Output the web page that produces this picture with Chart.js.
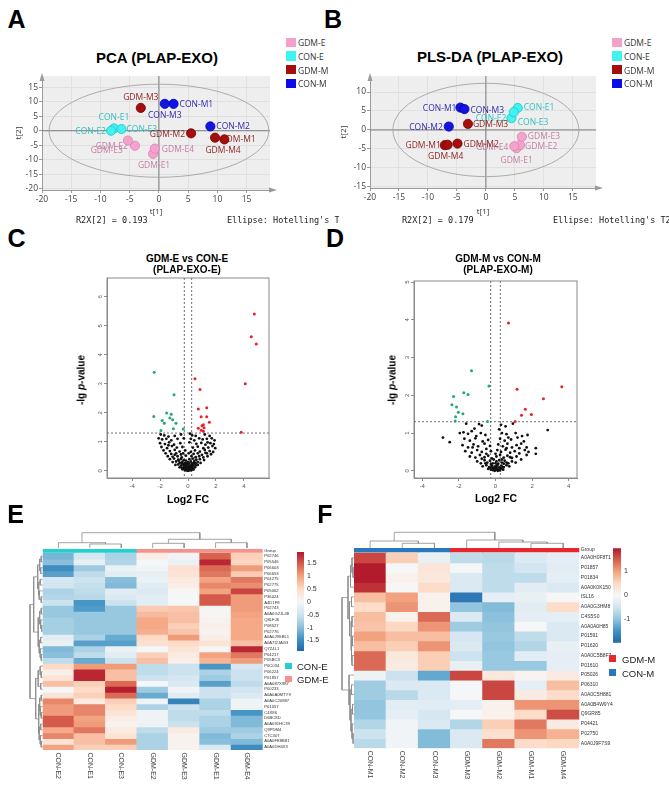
<!DOCTYPE html>
<html>
<head>
<meta charset="UTF-8">
<title>PLAP-EXO</title>
<script src="https://cdn.jsdelivr.net/npm/chart.js"></script>
<style>
*{margin:0; padding:0;}
body{position:relative; width:669px; height:794px; overflow:hidden; background:#fff; font-family:"Liberation Sans", Arial, sans-serif; color:#000;}
canvas{position:absolute;}
.t{position:absolute; white-space:nowrap; line-height:1;}
.sw{position:absolute;}
</style>
</head>
<body>
<canvas id="pca" width="335" height="150" style="left:0;top:70px"></canvas>
<canvas id="pls" width="334" height="150" style="left:335px;top:70px"></canvas>
<canvas id="volE" width="230" height="240" style="left:60px;top:270px"></canvas>
<canvas id="volM" width="230" height="240" style="left:370px;top:270px"></canvas>
<canvas id="heatE" width="300" height="250" style="left:0;top:540px"></canvas>
<canvas id="dcolE" width="300" height="25" style="left:0;top:525px"></canvas>
<canvas id="drowE" width="30" height="215" style="left:20px;top:540px"></canvas>
<canvas id="barE" width="45" height="120" style="left:285px;top:540px"></canvas>
<canvas id="heatM" width="349" height="250" style="left:320px;top:540px"></canvas>
<canvas id="dcolM" width="349" height="25" style="left:320px;top:525px"></canvas>
<canvas id="drowM" width="30" height="215" style="left:330px;top:540px"></canvas>
<canvas id="barM" width="50" height="110" style="left:600px;top:540px"></canvas>
<script>
// ---------- data ----------
// sample groups
const groups = ['GDM-E', 'CON-E', 'GDM-M', 'CON-M'];
const samplesGdmE = ['GDM-E1', 'GDM-E2', 'GDM-E3', 'GDM-E4'];
const samplesConE = ['CON-E1', 'CON-E2', 'CON-E3'];
const samplesGdmM = ['GDM-M1', 'GDM-M2', 'GDM-M3', 'GDM-M4'];
const samplesConM = ['CON-M1', 'CON-M2', 'CON-M3'];

// A: PCA scores (t[1], t[2])
const pcaT1GdmE = [-1.0, -4.1, -5.3, -0.7];
const pcaT2GdmE = [-8.0, -5.2, -3.4, -6.2];
const pcaT1ConE = [-7.7, -8.2, -6.4];
const pcaT2ConE = [0.8, 0.0, 0.6];
const pcaT1GdmM = [11.2, 5.5, -3.1, 9.6];
const pcaT2GdmM = [-3.0, -0.9, 7.9, -2.4];
const pcaT1ConM = [2.5, 8.8, 1.0];
const pcaT2ConM = [9.3, 1.5, 9.3];

// B: PLS-DA scores
const plsT1GdmE = [5.3, 5.9, 6.2, 4.9];
const plsT2GdmE = [-4.8, -4.0, -1.8, -4.3];
const plsT1ConE = [5.5, 4.4, 4.8];
const plsT2ConE = [5.8, 3.1, 4.7];
const plsT1GdmM = [-7.1, -4.9, -3.1, -6.6];
const plsT2GdmM = [-4.0, -3.6, 1.6, -3.9];
const plsT1ConM = [-4.4, -6.4, -3.7];
const plsT2ConM = [5.9, 0.9, 5.5];

const t1Ticks = [-20, -15, -10, -5, 0, 5, 10, 15];
const pcaT2Ticks = [-20, -15, -10, -5, 0, 5, 10, 15];
const plsT2Ticks = [-15, -10, -5, 0, 5, 10];

// C / D: volcano plots (log2 FC, -lg p)
const fcCut = [-0.263, 0.263];
const pCut = 1.301;
const fcTicks = [-4, -2, 0, 2, 4];
const pTicksE = [0, 1, 2, 3, 4, 5, 6];
const pTicksM = [0, 1, 2, 3, 4, 5];

const volEUp = [[4.75,5.41],[4.53,4.62],[4.89,4.37],[4.1,3.0],[3.81,1.33],[0.5,3.17],[0.86,2.8],[0.74,2.13],[1.34,2.17],[0.94,1.86],[1.34,1.86],[1.53,1.67],[1.1,1.59],[1.0,1.55],[1.15,1.48],[0.74,1.47],[1.1,1.36],[0.95,1.4]];
const volEDown = [[-2.42,3.4],[-1.0,2.62],[-2.45,1.87],[-1.53,1.99],[-1.3,1.82],[-1.1,1.76],[-1.85,1.73],[-1.7,1.64],[-0.86,1.64],[-1.05,1.45],[-0.34,1.44],[-1.94,1.39],[-1.2,1.95]];
const volENs = [[-1.95,1.25],[-1.7,1.22],[-1.4,1.18],[-0.95,1.2],[-0.5,1.25],[0.15,1.28],[0.3,1.22],[0.55,1.2],[1.2,1.25],[1.55,1.2],
[-2.1,1.12],[-1.85,1.08],[-1.55,1.1],[-1.2,1.05],[-0.75,1.1],[-0.3,1.12],[0.2,1.1],[0.45,1.05],[0.8,1.12],[1.05,1.08],[1.35,1.1],[1.7,1.12],[1.9,1.05],
[-2.0,0.95],[-1.65,0.92],[-1.35,0.98],[-1.0,0.9],[-0.55,0.95],[0.1,0.98],[0.6,0.93],[0.95,0.96],[1.25,0.9],[1.6,0.95],[1.85,0.92],
[-1.9,0.82],[-1.5,0.78],[-1.15,0.85],[-0.8,0.8],[-0.4,0.82],[0.35,0.8],[0.7,0.83],[1.1,0.78],[1.45,0.8],[1.75,0.85],[1.95,0.78],
[-1.75,0.7],[-1.3,0.68],[-0.95,0.72],[-0.6,0.66],[-0.2,0.7],[0.5,0.7],[0.85,0.66],[1.2,0.72],[1.55,0.68],[1.8,0.65],
[-1.6,0.6],[-1.2,0.58],[-0.85,0.6],[-0.5,0.56],[0.05,0.6],[0.4,0.58],[0.7,0.6],[1.0,0.55],[1.35,0.6],[1.65,0.57],
[-1.45,0.5],[-1.1,0.48],[-0.75,0.5],[-0.45,0.46],[-0.15,0.52],[0.25,0.5],[0.55,0.47],[0.8,0.5],[1.1,0.46],[1.4,0.5],
[-1.3,0.4],[-1.0,0.42],[-0.7,0.38],[-0.5,0.41],[-0.3,0.37],[0.1,0.4],[0.35,0.42],[0.6,0.38],[0.85,0.4],[1.15,0.37],
[-1.1,0.3],[-0.85,0.32],[-0.6,0.28],[-0.4,0.31],[-0.2,0.27],[0.0,0.3],[0.2,0.32],[0.45,0.28],[0.7,0.3],[0.9,0.27],
[-0.9,0.2],[-0.7,0.22],[-0.5,0.18],[-0.35,0.21],[-0.2,0.19],[-0.05,0.22],[0.1,0.18],[0.25,0.2],[0.4,0.22],[0.55,0.18],[0.7,0.2],
[-0.6,0.12],[-0.45,0.1],[-0.3,0.13],[-0.15,0.11],[0.0,0.12],[0.12,0.1],[0.25,0.13],[0.38,0.11],[0.5,0.12],
[-0.4,0.05],[-0.28,0.06],[-0.15,0.04],[-0.05,0.06],[0.05,0.03],[0.15,0.06],[0.28,0.05],[0.4,0.04],[-0.1,0.01],[0.1,0.01],[0.0,0.0],
[-0.35,0.08],[-0.22,0.1],[-0.08,0.09],[0.02,0.08],[0.18,0.09],[0.32,0.08],[-0.25,0.16],[-0.1,0.15],[0.05,0.16],[0.2,0.15],[0.32,0.17],
[-0.45,0.25],[-0.28,0.24],[-0.1,0.26],[0.08,0.25],[0.3,0.25],[0.55,0.25],[-0.65,0.35],[-0.15,0.35],[0.45,0.34],[-0.95,0.55],[-0.35,0.6],
[0.2,0.65],[1.25,0.62],[-1.4,0.88],[1.4,0.98],[-0.2,0.02],[0.22,0.02]];

const volMUp = [[0.71,3.92],[3.62,2.23],[1.18,2.16],[2.62,1.91],[1.63,1.63],[1.42,1.47],[1.96,1.49],[1.07,1.31]];
const volMDown = [[-1.31,2.65],[-0.36,2.25],[-1.73,2.07],[-1.5,2.02],[-2.29,1.97],[-2.38,1.75],[-2.13,1.69],[-2.03,1.55],[-1.78,1.51],[-2.18,1.43],[-2.2,1.32],[-0.44,1.31]];
const volMNs = [[-1.6,1.25],[-0.9,1.24],[-0.75,1.2],[0.3,1.22],[0.55,1.18],[0.95,1.25],[-1.15,1.12],[0.2,1.1],[2.85,1.08],
[-1.95,1.0],[-1.75,1.02],[-1.5,0.98],[-1.3,1.05],[-0.8,1.0],[-0.55,0.95],[0.35,1.0],[0.6,0.97],[1.1,1.0],[1.45,0.92],[1.75,0.95],[-2.87,0.88],[-1.05,0.92],
[-2.5,0.76],[-1.7,0.85],[-1.4,0.8],[-1.1,0.86],[-0.7,0.78],[-0.4,0.82],[0.25,0.85],[0.5,0.8],[0.85,0.83],[1.2,0.88],[1.55,0.78],[0.7,0.88],
[-1.8,0.68],[-1.5,0.62],[-1.2,0.7],[-0.95,0.65],[-0.6,0.72],[-0.3,0.66],[0.15,0.7],[0.4,0.65],[0.65,0.72],[0.9,0.62],[1.15,0.68],[1.4,0.72],[1.7,0.62],[2.2,0.6],
[-1.65,0.52],[-1.3,0.48],[-1.0,0.55],[-0.75,0.5],[-0.5,0.58],[-0.25,0.52],[0.1,0.55],[0.3,0.5],[0.55,0.56],[0.8,0.48],[1.05,0.52],[1.3,0.46],[1.6,0.55],[1.8,0.5],[2.2,0.45],
[-1.4,0.38],[-1.1,0.35],[-0.85,0.42],[-0.6,0.36],[-0.4,0.4],[-0.2,0.33],[0.05,0.38],[0.25,0.42],[0.45,0.35],[0.65,0.4],[0.9,0.34],[1.15,0.38],[1.4,0.3],[1.7,0.42],
[-1.0,0.25],[-0.8,0.2],[-0.6,0.28],[-0.45,0.22],[-0.3,0.27],[-0.15,0.2],[0.05,0.25],[0.2,0.28],[0.35,0.22],[0.5,0.27],[0.7,0.2],[0.9,0.25],[1.1,0.22],
[-0.7,0.12],[-0.5,0.15],[-0.35,0.1],[-0.2,0.14],[-0.05,0.11],[0.1,0.15],[0.2,0.09],[0.32,0.14],[0.45,0.1],[0.6,0.15],[0.75,0.12],
[-0.4,0.05],[-0.25,0.03],[-0.12,0.06],[0.0,0.02],[0.08,0.05],[0.18,0.02],[0.3,0.06],[0.42,0.03],[0.12,0.0],[-0.05,0.0],
[-0.3,0.08],[-0.18,0.09],[-0.05,0.07],[0.05,0.09],[0.25,0.07],[0.38,0.09],[-0.55,0.2],[-0.25,0.18],[0.0,0.2],[0.15,0.19],[0.45,0.19],[0.6,0.22],
[-0.75,0.32],[-0.1,0.3],[0.35,0.3],[0.8,0.36],[1.3,0.6],[-1.25,0.62],[0.0,0.45],[-0.5,0.45],[0.6,0.6],[-0.15,0.02],[0.25,0.01],[0.05,0.13]];

// E: heatmap GDM-E vs CON-E
const colsE = ['CON-E2', 'CON-E1', 'CON-E3', 'GDM-E2', 'GDM-E3', 'GDM-E1', 'GDM-E4'];
const colGroupE = ['CON-E', 'CON-E', 'CON-E', 'GDM-E', 'GDM-E', 'GDM-E', 'GDM-E'];
const rowsE = ['P02746','P05546','P06603','P06653','P04275','P02775','P05062','P36024','A4D1F8','P02743',
  'A0A0G2JL48','Q8LFJ6','P08527','P02776','A0A0J9SBL1','A0A7I2JAG3','Q7Z4L1','P04217','P05BC3','P0C034',
  'P06224','P01857','A0A087X987','P00233','A0A0A0MTY9','A0A0C20887','P01057','C4X86','D6BC8D','A0A091HC39',
  'Q9PDM4','C7C307','A0A0FE8B81','A0A0DH4X3'];
const heatE = [
  [-1.1,-0.4,-0.75,0.2,-0.05,1.45,0.6],
  [-1.0,-0.2,-0.7,0.0,-0.15,1.85,0.55],
  [-1.5,-0.85,-0.15,-0.05,0.4,1.4,1.05],
  [-1.3,-0.6,-0.25,-0.2,0.35,1.3,0.65],
  [-0.4,-0.5,-1.0,-0.15,0.25,1.0,1.3],
  [-0.45,-0.55,-1.05,-0.25,0.2,1.2,1.15],
  [-0.75,-0.6,-0.25,-0.35,0.05,1.0,1.65],
  [-0.7,-0.65,-0.35,-0.25,0.0,1.5,1.05],
  [-0.5,-1.4,-0.5,-0.25,0.0,1.5,1.05],
  [-0.9,-1.35,-0.9,0.65,0.7,0.05,1.05],
  [-0.9,-0.9,-0.9,0.8,0.75,0.05,1.0],
  [-0.8,-0.9,-0.9,0.95,0.75,0.1,0.95],
  [-0.8,-0.9,-0.9,0.95,0.6,0.15,0.95],
  [-0.8,-0.9,-0.9,0.9,0.7,0.1,0.95],
  [-0.25,-0.75,-1.2,0.5,1.05,0.2,0.95],
  [-0.15,-1.3,-1.3,0.4,0.5,0.35,0.75],
  [-1.05,-0.75,-0.15,0.0,0.35,0.05,1.85],
  [-1.0,-0.6,-0.25,0.6,0.25,1.0,1.3],
  [-0.6,-1.2,-0.5,0.75,0.15,0.85,1.05],
  [0.5,1.05,1.05,-0.6,-0.5,-1.4,-0.4],
  [0.15,1.85,0.75,-0.6,-0.5,-0.75,-0.5],
  [0.35,1.85,0.75,-0.5,-0.4,-0.85,-0.5],
  [0.75,0.6,1.4,0.0,-0.35,-1.3,-0.6],
  [0.0,0.5,1.9,-0.85,-0.05,-0.5,-0.45],
  [0.35,0.6,1.4,-1.2,-0.25,-0.5,-0.35],
  [1.2,0.25,0.6,-0.1,-1.6,-0.75,-0.1],
  [1.05,1.2,0.5,-0.75,-0.5,-0.75,-0.1],
  [1.05,1.2,0.35,-0.1,-0.6,-0.6,-1.4],
  [1.5,1.0,0.2,-0.1,-0.6,-0.75,-1.05],
  [1.5,1.05,0.1,-0.1,-0.5,-0.75,-1.05],
  [0.95,1.3,0.25,-0.6,0.25,-0.85,-0.85],
  [1.2,0.75,0.35,-0.75,0.1,-1.05,-0.75],
  [0.35,0.75,1.05,-0.75,0.1,-1.0,-1.05],
  [1.0,0.6,0.6,-0.75,0.1,-0.35,-1.5]
];
const scaleE = [-1.91, 1.95];
const scaleTicksE = [1.5, 1, 0.5, 0, -0.5, -1, -1.5];
// dendrograms: [height, left, right], leaves = index
const colTreeE = [15.3, [5.3, 0, [4, 1, 2]], [8.7, [4.7, 3, 4], [5.3, 5, 6]]];
const rowTreeE = [12.7,
  [9, [5, [3, [1.5, 0, 1], [2, 2, 3]], [4, [2.5, 4, 5], [3.5, 6, [1.5, 7, 8]]]],
      [4.5, [3, [1.5, 9, 10], [2, 11, [1, 12, 13]]], [3.5, [2, 14, 15], [2.5, 16, [1.5, 17, 18]]]]],
  [7, [4.5, [2.5, 19, [1.5, 20, 21]], [2, 22, 23]],
      [4, [3, [1.5, 24, 25], [2.5, 26, [1.5, 27, 28]]], [3.5, [2, 29, 30], [2.5, 31, [1.5, 32, 33]]]]]];

// F: heatmap GDM-M vs CON-M
const colsM = ['CON-M1', 'CON-M2', 'CON-M3', 'GDM-M3', 'GDM-M2', 'GDM-M1', 'GDM-M4'];
const colGroupM = ['CON-M', 'CON-M', 'CON-M', 'GDM-M', 'GDM-M', 'GDM-M', 'GDM-M'];
const rowsM = ['A0A0H0F8T1','P01857','P01834','A0A0K0K150','ISL16','A0A0G3HM8','C4S5S0','A0A0A0H85','P01591','P01620',
  'A0A0C5B8F7','P01610','P05026','P06310','A0A0C5H881','A0A0B4W9Y4','Q9GR85','P04421','P02750','A0A0J9F7S9'];
const heatM = [
  [1.65,0.6,-0.2,-0.65,-0.7,-0.4,-0.25],
  [1.95,-0.05,0.3,-0.05,-0.65,-0.5,-0.3],
  [1.95,0.1,0.25,-0.4,-0.65,-0.65,-0.25],
  [1.8,0.0,0.45,-0.4,-0.65,-0.3,-0.4],
  [0.75,1.0,0.1,-1.8,-0.25,-0.2,0.0],
  [0.45,1.1,0.1,-1.0,-1.1,-0.3,0.45],
  [0.75,0.1,1.4,-0.4,-1.05,-0.25,-0.25],
  [0.7,0.5,1.1,-0.9,-1.0,0.0,-0.4],
  [1.0,0.75,0.75,-0.45,-0.95,-0.65,-0.4],
  [0.75,0.6,1.1,-0.4,-1.0,-0.75,-0.2],
  [1.4,0.25,0.6,-0.55,-0.95,-0.3,-0.25],
  [1.4,0.2,0.6,-0.2,-0.95,-0.95,-0.25],
  [-0.15,-0.55,-1.3,1.65,0.25,0.05,0.2],
  [-0.9,-0.4,-0.4,-0.05,1.65,-0.25,0.75],
  [-0.9,-0.7,-0.4,-0.05,1.65,0.2,0.45],
  [-1.0,-0.3,-0.3,-0.25,0.1,1.1,1.1],
  [-1.0,-0.25,-0.45,-0.05,0.1,0.45,1.6],
  [-0.75,-0.1,-0.4,-0.75,0.6,1.3,0.2],
  [-0.55,-0.1,-1.1,-0.4,0.4,1.1,0.85],
  [-0.7,-0.1,-1.1,-0.4,1.3,0.45,0.5]
];
const scaleM = [-2.0, 1.97];
const scaleTicksM = [1, 0, -1];
const colTreeM = [15.7, [7, 0, [4.7, 1, 2]], [8, 3, [6, 4, [4.7, 5, 6]]]];
const rowTreeM = [12,
  [6, [3.5, [2, 0, [1, 1, 2]], 3], [4.5, [2.5, 4, 5], [3, [2, 6, 7], [2.5, [1.5, 8, 9], [2, 10, 11]]]]],
  [5, 12, [4, [2.5, 13, 14], [3, [1.5, 15, 16], [2, 17, [1, 18, 19]]]]]];

// ---------- styles ----------
const groupFill = ['#f5a3cd', '#44f0f0', '#a60d0d', '#1414e4'];
const groupLine = ['#d883b3', '#22c8c8', '#760000', '#0000a6'];
const groupText = ['#c47ea5', '#33c0c0', '#8e2424', '#2c2cae'];
const groupSwatch = ['#f5a0cb', '#3ff3f3', '#a50c0c', '#0c0ce8'];
const annotColor = {'CON-E': '#22d0d2', 'GDM-E': '#f4938c', 'GDM-M': '#e8262d', 'CON-M': '#2878c0'};
const heatColors = ['#2166ac','#4393c3','#92c5de','#d1e5f0','#f7f7f7','#fddbc7','#f4a582','#d6604d','#b2182b'];

// label offsets (px) for the score plots: [dx, dy, align]
const labA = {'GDM-E1':[1,12,'center'],'GDM-E2':[-7,1,'right'],'GDM-E3':[-5,10,'right'],'GDM-E4':[7,1,'left'],
  'CON-E1':[0,-11,'center'],'CON-E2':[-5,1,'right'],'CON-E3':[5,1,'left'],
  'GDM-M1':[-4,0,'left'],'GDM-M2':[-6,1,'right'],'GDM-M3':[0,-10,'center'],'GDM-M4':[8,13,'center'],
  'CON-M1':[6,1,'left'],'CON-M2':[6,0,'left'],'CON-M3':[0,12,'center']};
const labB = {'CON-M1':[-4,1,'right'],'CON-M3':[6,1,'left'],'CON-M2':[-6,1,'right'],'GDM-M3':[5,1,'left'],
  'GDM-M1':[-4,0,'right'],'GDM-M4':[-2,12,'center'],'GDM-M2':[6,1,'left'],
  'CON-E1':[6,0,'left'],'CON-E2':[-5,0,'right'],'CON-E3':[4,10,'left'],
  'GDM-E3':[6,0,'left'],'GDM-E2':[5,1,'left'],'GDM-E4':[-6,1,'right'],'GDM-E1':[0,12,'center']};

Chart.defaults.font.family = '"Liberation Sans", Arial, sans-serif';
Chart.defaults.animation = false;
Chart.defaults.responsive = false;
Chart.defaults.plugins.legend.display = false;
Chart.defaults.plugins.tooltip.enabled = false;

const pts = arr => arr.map(p => ({x: p[0], y: p[1]}));

// ---------- A, B: score plots ----------
function scoreChart(id, pad, yW, xH, xr, yr, yt, sets, labPos, ell) {
  const plug = {
    id: 'score',
    beforeDraw(c) {
      const {ctx, chartArea: a} = c;
      ctx.save();
      ctx.fillStyle = '#eeeeee';
      ctx.fillRect(a.left, a.top, a.width, a.height);
      ctx.restore();
    },
    beforeDatasetsDraw(c) {
      const {ctx, chartArea: a, scales: {x, y}} = c;
      const x0 = x.getPixelForValue(0), y0 = y.getPixelForValue(0);
      ctx.save();
      ctx.strokeStyle = '#7a7a7a'; ctx.lineWidth = 1;
      ctx.beginPath();
      ctx.moveTo(x0, a.top); ctx.lineTo(x0, a.bottom);
      ctx.moveTo(a.left, y0); ctx.lineTo(a.right, y0);
      ctx.stroke();
      ctx.strokeStyle = '#a4a4a4'; ctx.lineWidth = 0.9;
      ctx.beginPath();
      ctx.ellipse(x0, y0, x.getPixelForValue(ell[0]) - x0, y0 - y.getPixelForValue(ell[1]), 0, 0, Math.PI * 2);
      ctx.stroke();
      ctx.font = '8.5px "Open Sans"';
      ctx.textBaseline = 'middle';
      c.data.datasets.forEach((d, i) => {
        ctx.fillStyle = groupText[i];
        c.getDatasetMeta(i).data.forEach((pt, j) => {
          const p = labPos[d.names[j]];
          ctx.textAlign = p[2];
          ctx.fillText(d.names[j], pt.x + p[0], pt.y + p[1]);
        });
      });
      ctx.restore();
    },
    afterDraw(c) {
      const {ctx, chartArea: a} = c;
      ctx.save();
      ctx.fillStyle = '#9a9a9a'; ctx.strokeStyle = '#9a9a9a';
      ctx.beginPath(); ctx.moveTo(a.right, a.bottom); ctx.lineTo(a.right + 4, a.bottom); ctx.stroke();
      ctx.beginPath();
      ctx.moveTo(a.left, a.top - 3); ctx.lineTo(a.left - 2.5, a.top + 5); ctx.lineTo(a.left + 2.5, a.top + 5);
      ctx.closePath(); ctx.fill();
      ctx.beginPath();
      ctx.moveTo(a.right + 7, a.bottom); ctx.lineTo(a.right - 1, a.bottom - 2.5); ctx.lineTo(a.right - 1, a.bottom + 2.5);
      ctx.closePath(); ctx.fill();
      ctx.restore();
    }
  };
  const axis = (ticks, title) => ({
    afterBuildTicks: s => { s.ticks = ticks.map(v => ({value: v})); },
    grid: {color: '#e0e0e0', tickColor: '#9a9a9a', tickLength: 3},
    border: {color: '#9a9a9a'},
    ticks: {color: '#444', font: {family: '"Open Sans"', size: 8.5}, padding: 1, maxRotation: 0, autoSkip: false},
    title: {display: true, text: title, color: '#333', font: {family: '"Open Sans"', size: 8}, padding: {top: 0, bottom: 3}}
  });
  new Chart(document.getElementById(id), {
    type: 'scatter',
    data: {datasets: sets.map((s, g) => ({
      names: s[0],
      data: s[1].map((v, i) => ({x: v, y: s[2][i]})),
      backgroundColor: groupFill[g], borderColor: groupLine[g], borderWidth: 0.8, pointRadius: 4.6
    }))},
    options: {
      layout: {padding: pad},
      scales: {
        x: Object.assign(axis(t1Ticks, 't[1]'), {min: xr[0], max: xr[1], afterFit: s => { s.height = xH; }}),
        y: Object.assign(axis(yt, 't[2]'), {min: yr[0], max: yr[1], afterFit: s => { s.width = yW; }})
      }
    },
    plugins: [plug]
  });
}

scoreChart('pca', {left: 14, top: 5, right: 65, bottom: 0}, 28, 30, [-20, 19], [-20.5, 18.9], pcaT2Ticks,
  [[samplesGdmE, pcaT1GdmE, pcaT2GdmE], [samplesConE, pcaT1ConE, pcaT2ConE],
   [samplesGdmM, pcaT1GdmM, pcaT2GdmM], [samplesConM, pcaT1ConM, pcaT2ConM]], labA, [18.8, 16.1]);
scoreChart('pls', {left: 4, top: 5, right: 73, bottom: 0}, 31, 32, [-20, 19], [-15.3, 14.2], plsT2Ticks,
  [[samplesGdmE, plsT1GdmE, plsT2GdmE], [samplesConE, plsT1ConE, plsT2ConE],
   [samplesGdmM, plsT1GdmM, plsT2GdmM], [samplesConM, plsT1ConM, plsT2ConM]], labB, [16.05, 12.3]);

// ---------- C, D: volcano plots ----------
const volcanoPlugin = {
  id: 'volcano',
  beforeDatasetsDraw(c) {
    const {ctx, chartArea: a, scales: {x, y}} = c;
    ctx.save();
    ctx.strokeStyle = '#4a4a4a'; ctx.lineWidth = 0.8; ctx.setLineDash([2, 2]);
    ctx.beginPath();
    fcCut.forEach(v => { const px = x.getPixelForValue(v); ctx.moveTo(px, a.top); ctx.lineTo(px, a.bottom); });
    const py = y.getPixelForValue(pCut);
    ctx.moveTo(a.left, py); ctx.lineTo(a.right, py);
    ctx.stroke();
    ctx.setLineDash([]);
    ctx.strokeStyle = '#8a8a8a'; ctx.lineWidth = 1;
    ctx.strokeRect(a.left, a.top, a.width, a.height);
    ctx.restore();
  }
};
function volcanoChart(id, pad, yW, xr, yr, yt, ns, down, up) {
  const tickFont = {size: 6, family: '"Liberation Sans"'};
  new Chart(document.getElementById(id), {
    type: 'scatter',
    data: {datasets: [
      {data: pts(ns), backgroundColor: '#111', pointRadius: 1.4, borderWidth: 0},
      {data: pts(down), backgroundColor: '#23a872', pointRadius: 1.5, borderWidth: 0},
      {data: pts(up), backgroundColor: '#e6202e', pointRadius: 1.5, borderWidth: 0}
    ]},
    options: {
      layout: {padding: pad},
      scales: {
        x: {min: xr[0], max: xr[1], afterBuildTicks: s => { s.ticks = fcTicks.map(v => ({value: v})); },
            afterFit: s => { s.height = 32; },
            grid: {drawOnChartArea: false, tickLength: 3, color: '#8a8a8a'}, border: {color: '#8a8a8a'},
            ticks: {color: '#555', font: tickFont, padding: 2, maxRotation: 0, autoSkip: false}},
        y: {min: yr[0], max: yr[1], afterBuildTicks: s => { s.ticks = yt.map(v => ({value: v})); },
            afterFit: s => { s.width = yW; },
            grid: {drawOnChartArea: false, tickLength: 3, color: '#8a8a8a'}, border: {color: '#8a8a8a'},
            ticks: {color: '#555', font: tickFont, padding: 2, minRotation: 90, maxRotation: 90, crossAlign: 'center', autoSkip: false}}
      }
    },
    plugins: [volcanoPlugin]
  });
}
volcanoChart('volE', {left: 12, top: 8, right: 21, bottom: 0}, 35, [-5.8, 5.8], [-0.25, 6.65], pTicksE, volENs, volEDown, volEUp);
volcanoChart('volM', {left: 14, top: 11, right: 23, bottom: 0}, 30, [-4.45, 4.45], [-0.19, 5.03], pTicksM, volMNs, volMDown, volMUp);

// ---------- E, F: heatmaps ----------
function hex(c) { return [1, 3, 5].map(i => parseInt(c.substr(i, 2), 16)); }
function heatColor(v, lo, hi) {
  let t = Math.max(0, Math.min(1, (v - lo) / (hi - lo)));
  const n = heatColors.length - 1, k = Math.min(n - 1, Math.floor(t * n)), f = t * n - k;
  const a = hex(heatColors[k]), b = hex(heatColors[k + 1]);
  return 'rgb(' + a.map((q, i) => Math.round(q + (b[i] - q) * f)).join(',') + ')';
}
const colLabelPlugin = {
  id: 'colLabels',
  afterDraw(c) {
    const {ctx, chartArea: a, scales: {x}} = c;
    ctx.save();
    ctx.font = '7px "Liberation Sans"'; ctx.fillStyle = '#444';
    ctx.textAlign = 'left'; ctx.textBaseline = 'middle';
    c.data.labels.forEach((lab, i) => {
      ctx.save();
      ctx.translate(x.getPixelForValue(i), a.bottom + 2.5);
      ctx.rotate(Math.PI / 2);
      ctx.fillText(lab, 0, 0);
      ctx.restore();
    });
    ctx.restore();
  }
};
function heatChart(id, cols, colGroup, rows, vals, range, yMin, barEnd, pad, yW, rowFont) {
  const ds = [{data: cols.map(() => [yMin, barEnd]), backgroundColor: colGroup.map(g => annotColor[g])}];
  vals.forEach((row, r) => ds.push({
    data: cols.map(() => [r, r + 1]),
    backgroundColor: row.map(v => heatColor(v, range[0], range[1]))
  }));
  new Chart(document.getElementById(id), {
    type: 'bar',
    data: {labels: cols, datasets: ds},
    options: {
      layout: {padding: pad},
      datasets: {bar: {grouped: false, barPercentage: 1, categoryPercentage: 1, borderWidth: 0, inflateAmount: 0.5}},
      scales: {
        x: {display: false},
        y: {position: 'right', min: yMin, max: rows.length, reverse: true,
            grid: {display: false, drawTicks: false}, border: {display: false},
            afterBuildTicks: s => { s.ticks = [{value: (yMin + barEnd) / 2}].concat(rows.map((_, i) => ({value: i + 0.5}))); },
            afterFit: s => { s.width = yW; },
            ticks: {autoSkip: false, padding: 1.5, color: '#333', font: {size: rowFont},
                    callback: (v, i) => i === 0 ? 'Group' : rows[i - 1]}}
      }
    },
    plugins: [colLabelPlugin]
  });
}
heatChart('heatE', colsE, colGroupE, rowsE, heatE, scaleE, -0.74, -0.17, {left: 42.7, top: 9, right: 0, bottom: 40}, 37.3, 4.2);
heatChart('heatM', colsM, colGroupM, rowsM, heatM, scaleM, -0.51, -0.12, {left: 34, top: 8, right: 50, bottom: 41.7}, 39.7, 5);

// dendrograms
function treeSegs(node, segs, off) {
  if (typeof node === 'number') return {p: node + off, h: 0};
  const a = treeSegs(node[1], segs, off), b = treeSegs(node[2], segs, off);
  segs.push([a.p, a.h, b.p, b.h, node[0]]);
  return {p: (a.p + b.p) / 2, h: node[0]};
}
function dendroChart(id, tree, isCol, xr, yr, pad) {
  const segs = [];
  treeSegs(tree, segs, isCol ? 0 : 0.5);
  const ds = segs.map(([p1, h1, p2, h2, h]) => ({
    data: isCol ? [{x: p1, y: h1}, {x: p1, y: h}, {x: p2, y: h}, {x: p2, y: h2}]
                : [{x: h1, y: p1}, {x: h, y: p1}, {x: h, y: p2}, {x: h2, y: p2}],
    showLine: true, borderColor: '#8c8c8c', borderWidth: 0.8, pointRadius: 0, tension: 0, clip: false
  }));
  new Chart(document.getElementById(id), {
    type: 'scatter',
    data: {datasets: ds},
    options: {
      layout: {padding: pad},
      scales: {
        x: {display: false, min: xr[0], max: xr[1], reverse: !isCol},
        y: {display: false, min: yr[0], max: yr[1], reverse: !isCol}
      }
    }
  });
}
dendroChart('dcolE', colTreeE, true, [-0.5, 6.5], [0, 17], {left: 42.7, right: 37.3, top: 6, bottom: 2});
dendroChart('drowE', rowTreeE, false, [0, 13], [-0.74, 34], {left: 9.7, right: 7.3, top: 9, bottom: 5});
dendroChart('dcolM', colTreeM, true, [-0.5, 6.5], [0, 17], {left: 34, right: 89.7, top: 6, bottom: 2});
dendroChart('drowM', rowTreeM, false, [0, 12], [-0.51, 20], {left: 12, right: 6, top: 8, bottom: 6.7});

// colour keys
function colorKey(id, range, ticks, pad, yW) {
  new Chart(document.getElementById(id), {
    type: 'bar',
    data: {labels: [''], datasets: [{
      data: [range],
      barPercentage: 1, categoryPercentage: 1, borderWidth: 0,
      backgroundColor: ctx => {
        const ch = ctx.chart;
        if (!ch.chartArea) return '#fff';
        const y = ch.scales.y;
        const g = ch.ctx.createLinearGradient(0, y.getPixelForValue(range[0]), 0, y.getPixelForValue(range[1]));
        heatColors.forEach((c, i) => g.addColorStop(i / (heatColors.length - 1), c));
        return g;
      }
    }]},
    options: {
      layout: {padding: pad},
      scales: {
        x: {display: false},
        y: {position: 'right', min: range[0], max: range[1],
            grid: {display: false, drawTicks: false}, border: {display: false},
            afterBuildTicks: s => { s.ticks = ticks.map(v => ({value: v})); },
            afterFit: s => { s.width = yW; },
            ticks: {autoSkip: false, padding: 3, color: '#333', font: {size: 7}, callback: v => String(v)}}
      }
    }
  });
}
colorKey('barE', scaleE, scaleTicksE, {left: 12, top: 12, right: 0, bottom: 9}, 26);
colorKey('barM', scaleM, scaleTicksM, {left: 13, top: 8.3, right: 0, bottom: 6}, 29);

// ---------- text ----------
function txt(html, x, y, css, anchor) {
  const d = document.createElement('div');
  d.className = 't';
  d.innerHTML = html;
  d.style.left = x + 'px';
  d.style.top = y + 'px';
  d.style.transform = anchor === 'left' ? 'translate(0,-50%)' : 'translate(-50%,-50%)';
  Object.assign(d.style, css || {});
  document.body.appendChild(d);
  return d;
}
function swatch(x, y, w, h, color) {
  const d = document.createElement('div');
  d.className = 'sw';
  Object.assign(d.style, {left: x + 'px', top: y + 'px', width: w + 'px', height: h + 'px', background: color});
  document.body.appendChild(d);
}
const big = {font: 'bold 25px "Liberation Sans"'};
txt('A', 16.5, 19, big); txt('B', 333, 19, big);
txt('C', 16.5, 237.5, big); txt('D', 335, 237.5, big);
txt('E', 15.5, 513.5, big); txt('F', 325, 513.5, big);

const ttl = {font: 'bold 15px "Liberation Sans"'};
txt('PCA (PLAP-EXO)', 157, 57, ttl);
txt('PLS-DA (PLAP-EXO)', 490, 56, ttl);

groups.forEach((g, i) => {
  swatch(286, 37.5 + 13.7 * i, 10, 9.5, groupSwatch[i]);
  txt(g, 298, 42.3 + 13.7 * i, {font: '8.5px "Open Sans"', color: '#333'}, 'left');
  swatch(612, 37.5 + 13.7 * i, 10, 9.5, groupSwatch[i]);
  txt(g, 624, 42.3 + 13.7 * i, {font: '8.5px "Open Sans"', color: '#333'}, 'left');
});

const mono = {font: '8.5px "DejaVu Sans Mono"', color: '#222'};
txt('R2X[2] = 0.193', 76, 220, mono, 'left');
txt('Ellipse: Hotelling\'s T2 (95%)', 227, 220, Object.assign({width: '112px', overflow: 'hidden'}, mono), 'left');
txt('R2X[2] = 0.179', 402, 220, mono, 'left');
txt('Ellipse: Hotelling\'s T2 (95%)', 553, 220, Object.assign({width: '116px', overflow: 'hidden'}, mono), 'left');

const vt = {font: 'bold 10px "Liberation Sans"'};
txt('GDM-E vs CON-E', 187, 257.5, vt); txt('(PLAP-EXO-E)', 187, 268.5, vt);
txt('GDM-M vs CON-M', 498, 257.5, vt); txt('(PLAP-EXO-M)', 498, 268.5, vt);
const rot = {font: 'bold 10px "Liberation Sans"', transform: 'translate(-50%,-50%) rotate(-90deg)'};
txt('-lg <i>p</i>-value', 81, 380, rot);
txt('-lg <i>p</i>-value', 392, 380, rot);
const xl = {font: 'bold 10.5px "Liberation Sans"'};
txt('Log2 FC', 188, 499, xl);
txt('Log2 FC', 496, 498, xl);

// heatmap legends
const leg = {font: '9.5px "Liberation Sans"', color: '#222'};
swatch(285, 663, 6.5, 6, annotColor['CON-E']); txt('CON-E', 297, 666, leg, 'left');
swatch(285, 676, 6.5, 6, annotColor['GDM-E']); txt('GDM-E', 297, 679, leg, 'left');
swatch(609, 655, 7, 7, annotColor['GDM-M']); txt('GDM-M', 622, 658.5, leg, 'left');
swatch(609, 669, 7, 7, annotColor['CON-M']); txt('CON-M', 622, 672.5, leg, 'left');
</script>
</body>
</html>
